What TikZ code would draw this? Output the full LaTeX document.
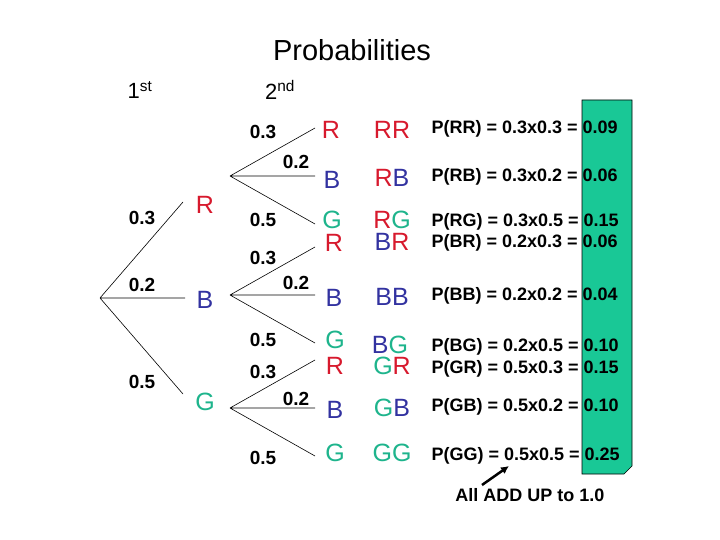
\documentclass[tikz,border=0pt]{standalone}
\usetikzlibrary{arrows.meta}
\usepackage{fontspec}
\setmainfont{Liberation Sans}
\definecolor{cR}{RGB}{215,25,45}
\definecolor{cB}{RGB}{50,50,160}
\definecolor{cG}{RGB}{30,180,140}
\definecolor{box}{RGB}{25,200,150}
\begin{document}
\begin{tikzpicture}[x=1pt,y=-1pt,
 pr/.style={font=\fontsize{19}{19}\selectfont\bfseries},
 lt/.style={font=\fontsize{25}{25}\selectfont},
 pp/.style={font=\fontsize{18}{18}\selectfont\bfseries,anchor=west},
 br/.style={line width=0.6pt}]
\useasboundingbox (0,0) rectangle (720,540);
\fill[box,draw=black,line width=0.6pt] (582,100) -- (632,100) -- (632,466) -- (624,474) -- (582,474) -- cycle;
\node[font=\fontsize{29}{29}\selectfont] (t) at (352,50) {Probabilities};
\node[font=\fontsize{22}{22}\selectfont] (f1) at (140,90) {1\textsuperscript{st}};
\node[font=\fontsize{22}{22}\selectfont] (f2) at (280,90) {2\textsuperscript{nd}};
% root
\coordinate (o) at (100,298);
\coordinate (e1) at (183,202); \coordinate (e2) at (185,298); \coordinate (e3) at (183,394);
\draw[br] (o)--(e1) (o)--(e2) (o)--(e3);
\node[pr] (p1) at (142,218) {0.3};
\node[pr] (p2) at (142,285) {0.2};
\node[pr] (p3) at (142,382) {0.5};
\node[lt,text=cR] (L1) at (205,205) {R};
\node[lt,text=cB] (L2) at (205,300) {B};
\node[lt,text=cG] (L3) at (205,402) {G};
% second level
\foreach \n/\y in {a/176,b/295,c/408}{
 \coordinate (\n o) at (230,\y);
 \coordinate (\n r) at (315,\y-48); \coordinate (\n b) at (315,\y); \coordinate (\n g) at (315,\y+48);
 \draw[br] (\n o)--(\n r) (\n o)--(\n b) (\n o)--(\n g);
}
\node[pr] (qa1) at (263,132) {0.3}; \node[pr] (qa2) at (296,162) {0.2}; \node[pr] (qa3) at (263,220) {0.5};
\node[pr] (qb1) at (263,258) {0.3}; \node[pr] (qb2) at (296,283) {0.2}; \node[pr] (qb3) at (263,340) {0.5};
\node[pr] (qc1) at (263,372) {0.3}; \node[pr] (qc2) at (296,399) {0.2}; \node[pr] (qc3) at (263,458) {0.5};
\node[lt,text=cR] (ra) at (331,130) {R}; \node[lt,text=cB] (ba) at (332,180) {B}; \node[lt,text=cG] (ga) at (332,220) {G};
\node[lt,text=cR] (rb) at (334,243) {R}; \node[lt,text=cB] (bb) at (334,298) {B}; \node[lt,text=cG] (gb) at (335,340) {G};
\node[lt,text=cR] (rc) at (335,366) {R}; \node[lt,text=cB] (bc) at (335,410) {B}; \node[lt,text=cG] (gc) at (335,453) {G};
% pairs
\node[lt] (RR) at (392,130) {\textcolor{cR}{RR}};
\node[lt] (RB) at (392,178) {\textcolor{cR}{R}\textcolor{cB}{B}};
\node[lt] (RG) at (392,220) {\textcolor{cR}{R}\textcolor{cG}{G}};
\node[lt] (BR) at (392,242) {\textcolor{cB}{B}\textcolor{cR}{R}};
\node[lt] (BB) at (392,297) {\textcolor{cB}{BB}};
\node[lt] (BG) at (390,345) {\textcolor{cB}{B}\textcolor{cG}{G}};
\node[lt] (GR) at (392,366) {\textcolor{cG}{G}\textcolor{cR}{R}};
\node[lt] (GB) at (392,408) {\textcolor{cG}{G}\textcolor{cB}{B}};
\node[lt] (GG) at (392,453) {\textcolor{cG}{GG}};
% probabilities
\node[pp] (P1) at (428,129) {P(RR) = 0.3x0.3 = 0.09};
\node[pp] (P2) at (428,177) {P(RB) = 0.3x0.2 = 0.06};
\node[pp] (P3) at (428,222) {P(RG) = 0.3x0.5 = 0.15};
\node[pp] (P4) at (428,243) {P(BR) = 0.2x0.3 = 0.06};
\node[pp] (P5) at (428,296) {P(BB) = 0.2x0.2 = 0.04};
\node[pp] (P6) at (428,347) {P(BG) = 0.2x0.5 = 0.10};
\node[pp] (P7) at (428,369) {P(GR) = 0.5x0.3 = 0.15};
\node[pp] (P8) at (428,407) {P(GB) = 0.5x0.2 = 0.10};
\node[pp] (P9) at (428,456) {P(GG) = 0.5x0.5 = 0.25};
\node[font=\fontsize{18}{18}\selectfont\bfseries] (all) at (530,495) {All ADD UP to 1.0};
\coordinate (tip) at (509,466);
\draw[line width=2.5pt,-{Latex[length=8pt,width=8pt]}] (482,485) -- (tip);
\end{tikzpicture}
\end{document}
